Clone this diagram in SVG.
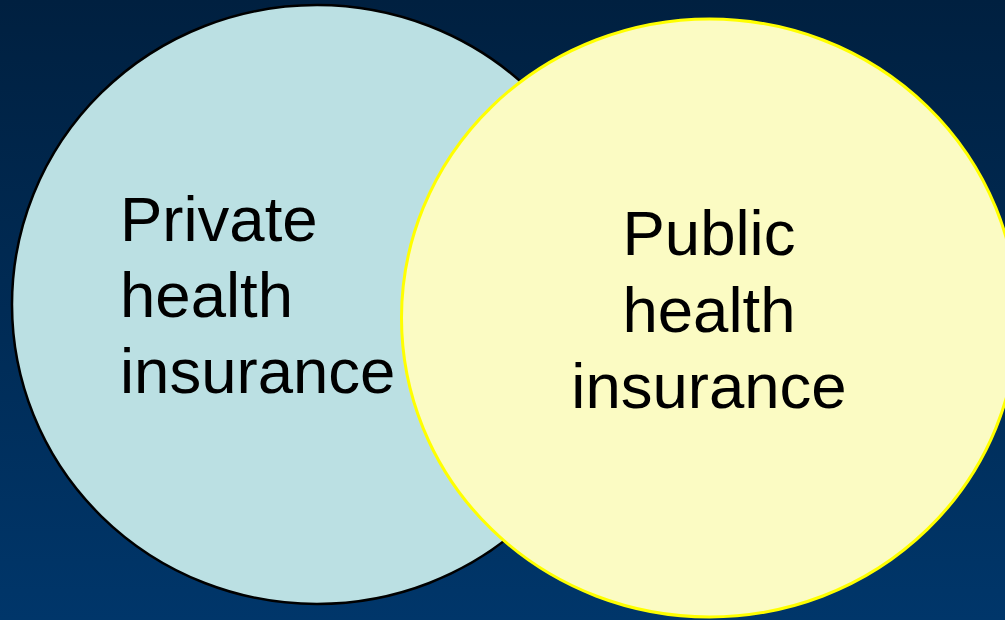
<svg xmlns="http://www.w3.org/2000/svg" width="1005" height="620" viewBox="0 0 1005 620">
  <defs>
    <linearGradient id="bg" x1="0" y1="0" x2="0" y2="1">
      <stop offset="0" stop-color="#002040"/>
      <stop offset="1" stop-color="#00366a"/>
    </linearGradient>
  </defs>
  <style>
    .lbl { font-family: "Liberation Sans", Arial, sans-serif; font-size: 63.5px; fill: #000000; }
  </style>
  <rect x="0" y="0" width="1005" height="620" fill="url(#bg)"/>
  <g id="private">
    <ellipse cx="317" cy="304.5" rx="305" ry="299.5" fill="#bbe0e3" stroke="#000000" stroke-width="2.5"/>
    <text class="lbl" x="120" y="241">Private</text>
    <text class="lbl" x="120" y="317">health</text>
    <text class="lbl" x="120" y="393">insurance</text>
  </g>
  <g id="public">
    <ellipse cx="709.5" cy="318" rx="308" ry="299" fill="#fbfbc3" stroke="#ffff00" stroke-width="3"/>
    <text class="lbl" x="709" y="255" text-anchor="middle">Public</text>
    <text class="lbl" x="709" y="332" text-anchor="middle">health</text>
    <text class="lbl" x="709" y="408" text-anchor="middle">insurance</text>
  </g>
  <g id="connectors"/>
</svg>
